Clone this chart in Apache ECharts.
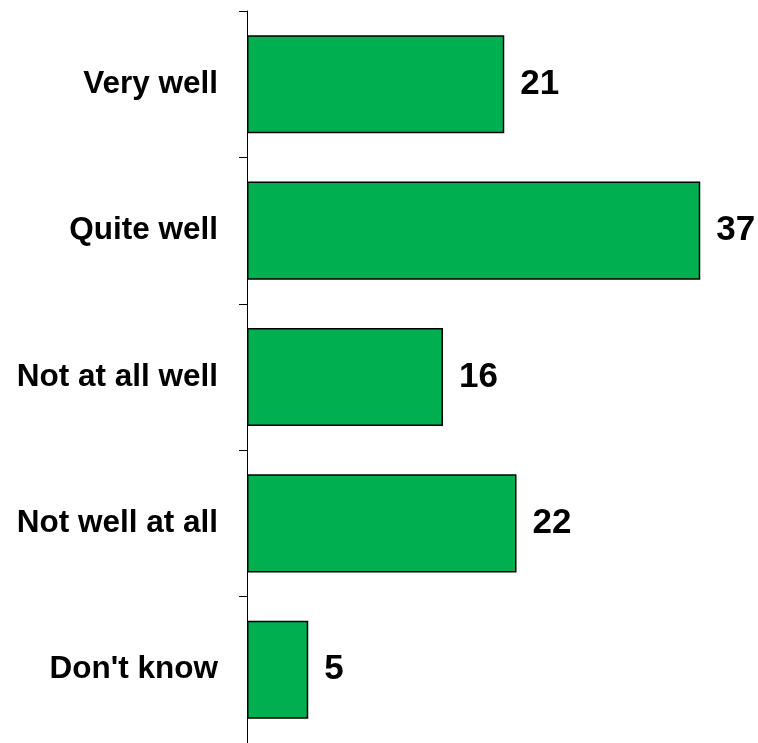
<!DOCTYPE html>
<html>
<head>
<meta charset="utf-8">
<script src="https://cdn.jsdelivr.net/npm/echarts@6/dist/echarts.min.js"></script>
<style>html,body{margin:0;padding:0;background:#fff;}#c{width:758px;height:743px;}</style>
</head>
<body>
<div id="c"></div>
<script>
const categories = ["Very well", "Quite well", "Not at all well", "Not well at all", "Don't know"];
const values = [21, 37, 16, 22, 5];

const chart = echarts.init(document.getElementById('c'), null, {renderer: 'canvas'});
chart.setOption({
  animation: false,
  backgroundColor: '#ffffff',
  grid: {left: 247, right: 21, top: 11, bottom: -4, containLabel: false},
  xAxis: {
    type: 'value', min: 0, max: 40, show: false
  },
  yAxis: {
    type: 'category', data: categories, inverse: true,
    axisLine: {show: true, lineStyle: {color: '#000', width: 1}},
    axisTick: {show: true, length: 8, lineStyle: {color: '#000'}},
    axisLabel: {
      margin: 29, color: '#000', fontFamily: 'Liberation Sans, Arial, sans-serif',
      fontWeight: 'bold', fontSize: 31.5
    }
  },
  series: [{
    type: 'bar', data: values, barCategoryGap: '33%',
    itemStyle: {color: '#00B050', borderColor: '#000', borderWidth: 1.5},
    label: {
      show: true, position: 'right', distance: 16, color: '#000',
      fontFamily: 'Liberation Sans, Arial, sans-serif', fontWeight: 'bold', fontSize: 35
    }
  }]
});
</script>
</body>
</html>
